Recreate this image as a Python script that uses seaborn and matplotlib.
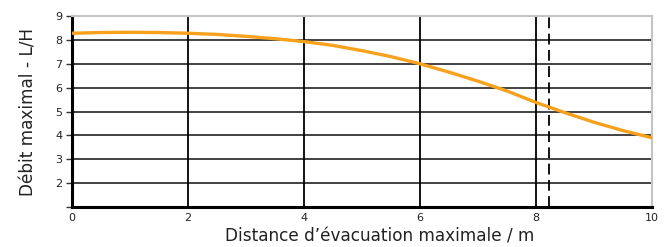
import seaborn as sns
import matplotlib.pyplot as plt
import pandas as pd

# values
distance = [0, 0.5, 1, 1.5, 2, 2.5, 3, 3.5, 4, 4.5, 5, 5.5, 6, 6.5, 7, 7.5, 8, 8.5, 9, 9.5, 10]
debit = [8.28, 8.31, 8.32, 8.31, 8.28, 8.23, 8.15, 8.05, 7.93, 7.77, 7.55, 7.30, 7.00,
         6.65, 6.27, 5.86, 5.38, 4.95, 4.55, 4.20, 3.90]
x_ticks = [0, 2, 4, 6, 8, 10]
y_ticks = [1, 2, 3, 4, 5, 6, 7, 8, 9]
limit_distance = 8.22

df = pd.DataFrame({'distance': distance, 'debit': debit})

sns.set_style("white")
fig = plt.figure(figsize=(6.71, 2.47), dpi=100)
ax = fig.add_axes([0.1073, 0.162, 0.8644, 0.773])

# grid
for y in y_ticks[1:-1]:
    ax.axhline(y, color='#222222', lw=1.2, zorder=1)
for x in x_ticks[1:-1]:
    ax.axvline(x, color='black', lw=1.3, zorder=1)
ax.axvline(limit_distance, color='black', lw=1.3, ls=(0, (6, 3)), zorder=1)

sns.lineplot(data=df, x='distance', y='debit', color='#F7A11C', lw=2.4, ax=ax, zorder=3)

ax.set_xlim(0, 10)
ax.set_ylim(1, 9)
ax.set_xticks(x_ticks)
ax.set_yticks(y_ticks)
ax.set_yticklabels([''] + [str(v) for v in y_ticks[1:]])
ax.tick_params(axis='y', length=4, width=1, color='#333333', labelsize=8,
               labelcolor='#222222', pad=3, left=True)
ax.tick_params(axis='x', length=0, labelsize=8, labelcolor='#222222', pad=4)

for side in ['left', 'bottom']:
    ax.spines[side].set_color('black')
    ax.spines[side].set_linewidth(2.2)
for side in ['top', 'right']:
    ax.spines[side].set_color('#c4c4c4')
    ax.spines[side].set_linewidth(1.5)

ax.set_xlabel("Distance d\u2019évacuation maximale / m", fontsize=12.2, color='#222222', labelpad=0)
ax.xaxis.set_label_coords(0.53, -0.11)
ax.set_ylabel("Débit maximal - L/H", fontsize=12.2, color='#222222', labelpad=13)

plt.savefig('out.png', dpi=100)
